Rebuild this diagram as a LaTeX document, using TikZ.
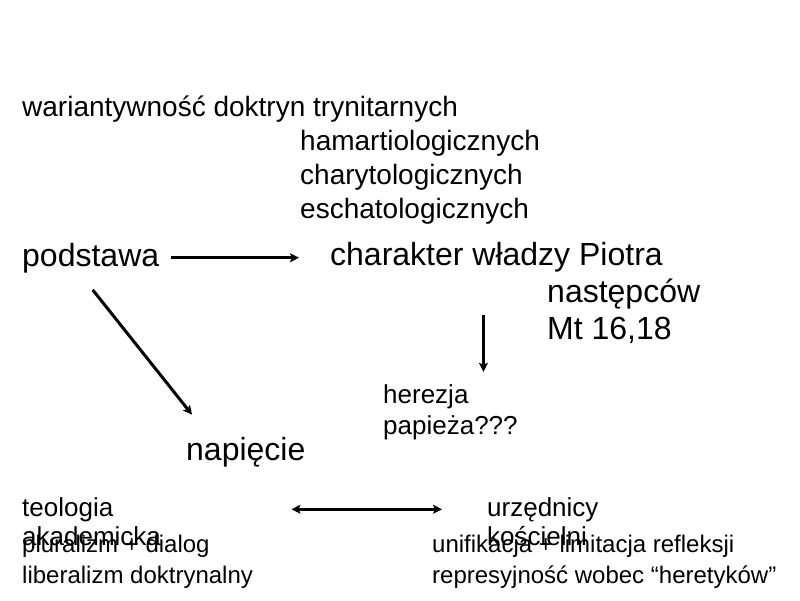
\documentclass[tikz,border=0pt]{standalone}
\usepackage{fontspec}
\setmainfont{Liberation Sans}
\usetikzlibrary{arrows.meta}

\begin{document}
\begin{tikzpicture}[x=1pt, y=-1pt,
    >={Stealth[length=9pt, width=9pt, inset=2pt]},
    txt/.style={anchor=base west, inner sep=0pt},
    big/.style={txt, font=\fontsize{32}{37}\selectfont},
    mid/.style={txt, font=\fontsize{28}{34}\selectfont},
    sml/.style={txt, font=\fontsize{26}{30}\selectfont},
    lst/.style={txt, font=\fontsize{24}{29}\selectfont},
    arr/.style={line width=3pt, ->},
    ]
    \useasboundingbox (0, 0) rectangle (800, 600);

    \node[mid] (wariant) at (22, 116) {wariantywność doktryn trynitarnych};
    \node[mid] (hamart) at (300, 150) {hamartiologicznych};
    \node[mid] (charyt) at (300, 184) {charytologicznych};
    \node[mid] (eschat) at (300, 218) {eschatologicznych};

    \node[big] (podstawa) at (22, 266) {podstawa};
    \node[big] (charakter) at (330, 265) {charakter władzy Piotra};
    \node[big] (nastepcow) at (547, 302) {następców};
    \node[big] (mt) at (547, 339) {Mt 16,18};

    \node[sml] (herezja) at (383, 403) {herezja};
    \node[sml] (papieza) at (383, 434) {papieża???};
    \node[big] (napiecie) at (186, 460) {napięcie};

    \node[sml] (teologia) at (22, 516) {teologia};
    \node[sml] (akademicka) at (22, 545) {akademicka};
    \node[lst] (pluralizm) at (22, 552) {pluralizm + dialog};
    \node[lst] (liberalizm) at (22, 583) {liberalizm doktrynalny};

    \node[sml] (urzednicy) at (487, 516) {urzędnicy};
    \node[sml] (koscielni) at (487, 545) {kościelni};
    \node[lst] (unifikacja) at (432, 552) {unifikacja + limitacja refleksji};
    \node[lst] (represyjnosc) at (432, 583) {represyjność wobec “heretyków”};

    \draw[arr, shorten <=12pt, shorten >=31pt] (podstawa.east) -- (podstawa.east -| charakter.west);
    \draw[arr] ([xshift=2pt, yshift=-17pt]podstawa.south) -- ([xshift=6pt, yshift=22pt]napiecie.north west);
    \draw[arr] ([xshift=-13pt, yshift=-43pt]charakter.south) -- ++(0, 57);
    \draw[line width=3pt, <->, shorten <=178pt, shorten >=45pt] (teologia.east) -- (teologia.east -| urzednicy.west);
\end{tikzpicture}
\end{document}
